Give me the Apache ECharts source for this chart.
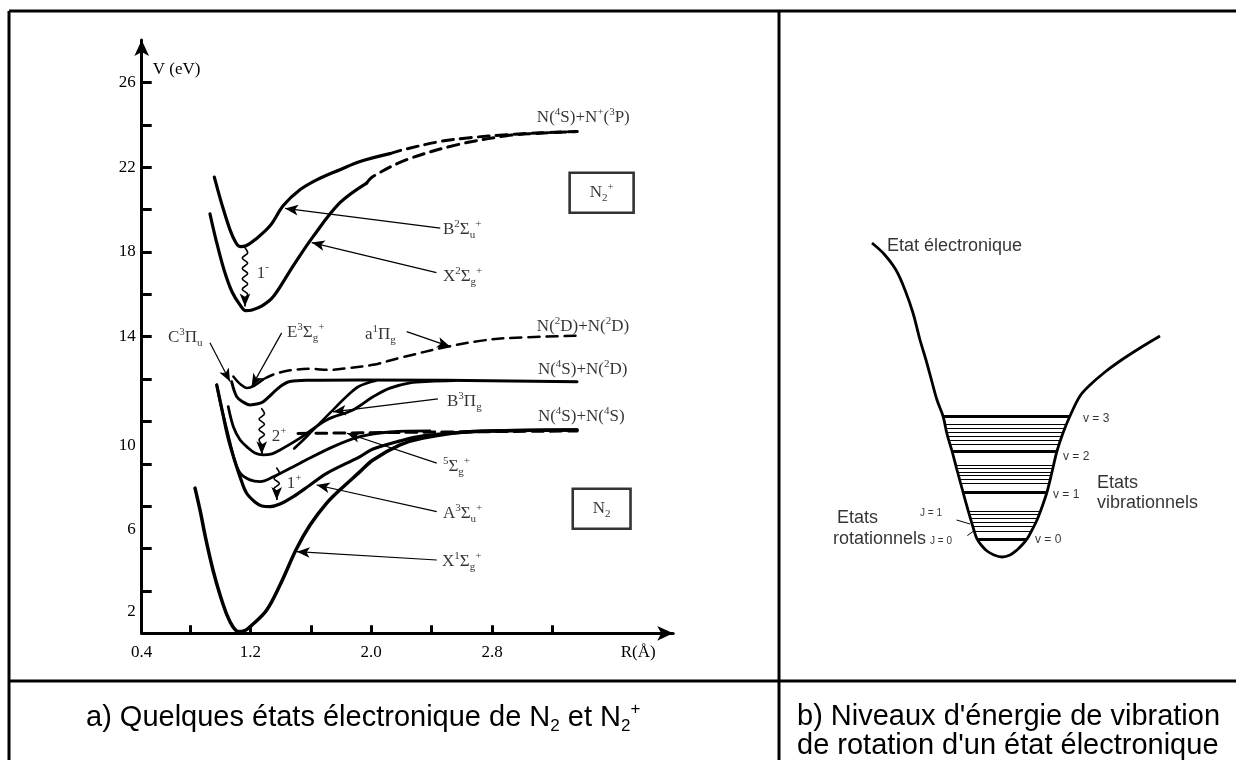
<!DOCTYPE html>
<html><head><meta charset="utf-8">
<script src="https://cdn.jsdelivr.net/npm/echarts@6/dist/echarts.min.js"></script>
<style>html,body{margin:0;padding:0;background:#fff}#c{width:1236px;height:760px}</style>
</head><body><div id="c"></div><script>
// ---------- Panel a) : potential curves of N2 / N2+  (R in Å, V in eV) ----------
const xTickValues = [0.8, 1.2, 1.6, 2.0, 2.4, 2.8, 3.2];
const xLabelValues = [0.48, 1.2, 2.0, 2.8];
const xLabelTexts = ['0.4', '1.2', '2.0', '2.8'];
const yTickValues = [2, 4, 6, 8, 10, 12, 14, 16, 18, 20, 22, 24, 26];
const yLabelValues = [26, 22, 18, 14, 8.86, 4.88, 1.02];
const yLabelTexts = ['26', '22', '18', '14', '10', '6', '2'];

const curveB2Su = [[0.961,21.53],[1.012,20.22],[1.065,19.04],[1.104,18.43],[1.131,18.25],[1.171,18.29],[1.230,18.57],[1.330,19.23],[1.418,20.19],[1.528,20.93],[1.639,21.40],[1.793,21.88],[1.926,22.27],[2.124,22.64]];
const curveB2SuDash = [[2.124,22.64],[2.211,22.82],[2.456,23.21],[2.654,23.39],[2.897,23.53],[3.118,23.62],[3.363,23.68]];
const curveX2Sg = [[0.932,19.80],[0.972,18.57],[1.025,17.16],[1.078,16.12],[1.131,15.50],[1.169,15.23],[1.211,15.26],[1.277,15.45],[1.352,15.89],[1.475,17.25],[1.616,18.73],[1.793,20.32],[1.970,21.25]];
const curveX2SgDash = [[1.970,21.25],[2.012,21.56],[2.235,22.35],[2.566,23.05],[2.897,23.48],[3.118,23.60],[3.363,23.68]];
const curveC3Pu = [[1.076,11.87],[1.109,11.17],[1.151,10.92],[1.197,10.78],[1.250,10.83],[1.285,10.93],[1.343,11.30],[1.396,11.64],[1.462,11.88],[1.595,11.94],[1.926,11.96],[3.363,11.87]];
const curveE3Sg = [[1.087,12.12],[1.131,11.77],[1.177,11.58],[1.224,11.68],[1.285,11.99]];
const curveA1PgDash = [[1.285,11.99],[1.363,12.24],[1.462,12.41],[1.595,12.48],[1.727,12.43],[1.860,12.53],[2.012,12.67],[2.191,13.00],[2.502,13.52],[2.721,13.80],[2.899,13.93],[3.363,14.04]];
const curveB3Pg = [[1.053,10.70],[1.087,9.75],[1.131,9.13],[1.175,8.81],[1.230,8.51],[1.285,8.42],[1.343,8.47],[1.396,8.65],[1.528,9.21],[1.705,10.07],[1.879,10.54],[2.012,11.16],[2.124,11.57],[2.257,11.82],[2.389,11.89],[2.55,11.92]];
const curveSteep = [[1.490,8.72],[1.575,9.30],[1.727,10.40],[1.840,11.20],[1.920,11.66],[2.030,11.92]];
const curveW3Du = [[0.977,11.72],[1.012,10.54],[1.052,9.37],[1.091,8.28],[1.131,7.57],[1.197,7.24],[1.263,7.16],[1.352,7.39],[1.528,8.03],[1.749,8.81],[1.926,9.28],[2.124,9.50],[2.389,9.55]];
const curveA3Su = [[0.977,11.72],[1.012,10.54],[1.052,9.22],[1.098,8.09],[1.138,7.24],[1.175,6.61],[1.230,6.20],[1.276,6.01],[1.330,5.98],[1.396,6.10],[1.484,6.45],[1.595,7.00],[1.705,7.55],[1.926,8.34],[2.012,8.70],[2.191,9.08],[2.343,9.32],[2.674,9.52],[3.363,9.60]];
const curveX1Sg = [[0.833,6.85],[0.866,5.82],[0.906,4.41],[0.952,2.99],[0.999,1.81],[1.045,0.86],[1.085,0.30],[1.120,0.08],[1.158,0.11],[1.211,0.39],[1.308,1.10],[1.396,2.28],[1.507,4.01],[1.595,5.11],[1.705,6.14],[1.793,6.77],[1.926,7.63],[2.012,8.18],[2.191,8.89],[2.343,9.22],[2.674,9.52],[3.363,9.60]];
const curve5SgDash = [[1.515,9.43],[2.191,9.48],[3.363,9.55]];

// wavy transition arrows (1-, 2+, 1+) and their arrow tips
const wave1m = [[1.164,18.20],[1.182,17.96],[1.146,17.71],[1.182,17.47],[1.146,17.22],[1.182,16.98],[1.146,16.73],[1.182,16.49],[1.146,16.24],[1.182,16.00],[1.164,15.80]];
const wave2p = [[1.275,10.60],[1.293,10.36],[1.257,10.11],[1.293,9.87],[1.257,9.62],[1.293,9.38],[1.257,9.13],[1.275,8.90]];
const wave1p = [[1.374,7.80],[1.392,7.56],[1.356,7.31],[1.392,7.07],[1.356,6.82],[1.374,6.70]];
const waveTips = [[[1.164,15.80],[1.164,15.42]], [[1.275,8.90],[1.275,8.45]], [[1.374,6.70],[1.374,6.29]]];

// leader arrows from state names to curves
const leaderArrows = [
  [[2.457,19.12],[1.430,20.05]],
  [[2.432,17.02],[1.606,18.44]],
  [[0.932,13.71],[1.065,11.88]],
  [[1.407,14.18],[1.208,11.64]],
  [[2.235,14.24],[2.522,13.53]],
  [[2.442,11.06],[1.747,10.45]],
  [[2.434,8.03],[1.840,9.44]],
  [[2.434,5.74],[1.639,7.00]],
  [[2.434,3.46],[1.507,3.85]]
];

// text annotations: [R, V, text]
const annotationsA = [
  [3.097,24.33,'{t|N(}{p|4}{t|S)+N}{p|+}{t|(}{p|3}{t|P)}'],
  [2.475,19.04,'{t|B}{p|2}{t|Σ}{b|u}{p|+}'],
  [2.475,16.84,'{t|X}{p|2}{t|Σ}{b|g}{p|+}'],
  [1.242,17.00,'{t|1}{p|-}'],
  [0.654,13.94,'{t|C}{p|3}{t|Π}{b|u}'],
  [1.442,14.18,'{t|E}{p|3}{t|Σ}{b|g}{p|+}'],
  [1.959,14.08,'{t|a}{p|1}{t|Π}{b|g}'],
  [3.097,14.48,'{t|N(}{p|2}{t|D)+N(}{p|2}{t|D)}'],
  [3.104,12.43,'{t|N(}{p|4}{t|S)+N(}{p|2}{t|D)}'],
  [2.502,10.94,'{t|B}{p|3}{t|Π}{b|g}'],
  [3.104,10.23,'{t|N(}{p|4}{t|S)+N(}{p|4}{t|S)}'],
  [2.475,7.87,'{p|5}{t|Σ}{b|g}{p|+}'],
  [2.475,5.67,'{t|A}{p|3}{t|Σ}{b|u}{p|+}'],
  [2.469,3.38,'{t|X}{p|1}{t|Σ}{b|g}{p|+}'],
  [1.341,9.28,'{t|2}{p|+}'],
  [1.440,7.08,'{t|1}{p|+}']
];
const boxesA = [
  [3.526,20.79,'{t|N}{b|2}{p|+}'],
  [3.526,5.88,'{t|N}{b|2}']
];

// ---------- Panel b) : one electronic state with vibrational / rotational levels (arbitrary units) ----------
const wellCurve = [[2.10,16.35],[2.70,15.80],[3.30,15.00],[3.75,14.00],[4.15,12.85],[4.50,11.50],[4.80,10.50],[5.10,9.40],[5.35,8.50],[5.65,7.70],[5.85,6.80],[6.10,5.95],[6.35,5.00],[6.65,3.90],[6.90,3.00],[7.15,2.15],[7.35,1.55],[7.60,1.20],[7.85,0.95],[8.20,0.75],[8.60,0.65],[9.00,0.75],[9.35,1.00],[9.60,1.25],[9.85,1.55],[10.10,2.00],[10.35,2.50],[10.60,3.15],[10.85,3.90],[11.10,4.90],[11.35,5.95],[11.65,6.85],[12.00,7.70],[12.50,8.70],[13.00,9.25],[13.75,9.90],[14.50,10.45],[15.50,11.10],[16.50,11.70]];
const levelY  = [7.70, 7.30, 7.10, 6.90, 6.70, 6.50, 6.30, 5.95, 5.25, 5.075, 4.90, 4.725, 4.525, 4.325, 3.885, 2.925, 2.775, 2.60, 2.40, 2.175, 1.95, 1.55];
const levelXL = [5.65, 5.74, 5.79, 5.83, 5.88, 5.94, 6.00, 6.10, 6.29, 6.33, 6.38, 6.43, 6.48, 6.54, 6.65, 6.92, 6.97, 7.02, 7.08, 7.14, 7.22, 7.35];
const levelXR = [12.00, 11.84, 11.75, 11.67, 11.60, 11.53, 11.47, 11.35, 11.18, 11.14, 11.10, 11.06, 11.00, 10.95, 10.85, 10.53, 10.47, 10.40, 10.30, 10.19, 10.08, 9.85];
const levelKind = ['v','J','J','J','J','J','J','v','J','J','J','J','J','J','v','J','J','J','J','J','J','v'];
const jLeaders = [[[6.33,2.50],[7.0,2.30]], [[6.87,1.72],[7.25,2.00]]];
const annotationsB = [
  [2.85,16.2,'{e|Etat électronique}'],
  [12.65,7.55,'{v|v = 3}'],
  [11.65,5.65,'{v|v = 2}'],
  [11.15,3.75,'{v|v = 1}'],
  [10.25,1.50,'{v|v = 0}'],
  [13.35,4.35,'{e|Etats}'],
  [13.35,3.35,'{e|vibrationnels}'],
  [0.35,2.60,'{e|Etats}'],
  [0.15,1.55,'{e|rotationnels}'],
  [4.5,2.85,'{j|J = 1}'],
  [5.0,1.42,'{j|J = 0}']
];

const captionA = '{c|a) Quelques états électronique de N}{cb|2}{c| et N}{cb|2}{cp|+}';
const captionB = "b) Niveaux d'énergie de vibration\nde rotation d'un état électronique";

// ---------- styles ----------
const serif = "'Liberation Serif','Times New Roman',serif";
const sans = "'Liberation Sans',Arial,sans-serif";
const richSerif = {
  t: {fontFamily: serif, fontSize: 17, lineHeight: 22, color: '#000'},
  p: {fontFamily: serif, fontSize: 11, lineHeight: 12, verticalAlign: 'top', color: '#000'},
  b: {fontFamily: serif, fontSize: 11, lineHeight: 12, verticalAlign: 'bottom', color: '#000'}
};
const richSans = {
  e: {fontFamily: sans, fontSize: 18, lineHeight: 20, color: '#000'},
  v: {fontFamily: sans, fontSize: 12, lineHeight: 14, color: '#000'},
  j: {fontFamily: sans, fontSize: 10, lineHeight: 12, color: '#000'}
};

function curve(data, width, dashed) {
  return {type: 'line', xAxisIndex: 0, yAxisIndex: 0, data: data, showSymbol: false, smooth: 0.35,
    silent: true, clip: false, z: 3,
    lineStyle: {color: '#000', width: width, type: dashed ? [11, 7] : 'solid', cap: 'round', join: 'round'}};
}

const series = [
  curve(curveB2Su, 3.2), curve(curveB2SuDash, 3, true),
  curve(curveX2Sg, 3.2), curve(curveX2SgDash, 3, true),
  curve(curveC3Pu, 3), curve(curveE3Sg, 2.5), curve(curveA1PgDash, 2.5, true),
  curve(curveB3Pg, 2.8), curve(curveSteep, 2.6), curve(curveW3Du, 2.8), curve(curveA3Su, 3.2), curve(curveX1Sg, 3.5),
  curve(curve5SgDash, 3, true),
  curve(wave1m, 1.6), curve(wave2p, 1.6), curve(wave1p, 1.6),
  {type: 'scatter', xAxisIndex: 0, yAxisIndex: 0, symbolSize: 0, silent: true, z: 5, clip: false,
    data: annotationsA.map(a => ({value: [a[0], a[1]], label: {formatter: a[2]}})),
    label: {show: true, position: 'right', distance: 0, rich: richSerif},
    markLine: {silent: true, symbol: ['none', 'arrow'], symbolSize: [8, 13], animation: false,
      label: {show: false}, lineStyle: {color: '#000', width: 1.2, type: 'solid'},
      data: leaderArrows.map(s => [{coord: s[0]}, {coord: s[1]}]).concat(
            waveTips.map(s => [{coord: s[0], lineStyle: {width: 1.6}}, {coord: s[1]}]))}
  },
  {type: 'scatter', xAxisIndex: 0, yAxisIndex: 0, symbolSize: 0, silent: true, z: 5,
    data: boxesA.map(a => ({value: [a[0], a[1]], label: {formatter: a[2]}})),
    label: {show: true, position: 'inside', rich: richSerif, borderColor: '#000', borderWidth: 2.6,
      padding: [9, 20, 9, 20]}
  },
  // panel b
  {type: 'line', xAxisIndex: 1, yAxisIndex: 1, data: wellCurve, showSymbol: false, smooth: 0.35, silent: true,
    lineStyle: {color: '#000', width: 2.8}},
  {type: 'lines', coordinateSystem: 'cartesian2d', xAxisIndex: 1, yAxisIndex: 1, silent: true, z: 3,
    data: levelY.map((y, i) => ({coords: [[levelXL[i], y], [levelXR[i], y]],
      lineStyle: {color: '#000', width: levelKind[i] === 'v' ? 3 : 1.2, opacity: 1}}))},
  {type: 'scatter', xAxisIndex: 1, yAxisIndex: 1, symbolSize: 0, silent: true, z: 5,
    data: annotationsB.map(a => ({value: [a[0], a[1]], label: {formatter: a[2]}})),
    label: {show: true, position: 'right', distance: 0, rich: richSans},
    markLine: {silent: true, symbol: ['none', 'none'], animation: false, label: {show: false},
      lineStyle: {color: '#000', width: 1, type: 'solid'},
      data: jLeaders.map(s => [{coord: s[0]}, {coord: s[1]}])}
  }
];

const chart = echarts.init(document.getElementById('c'), null, {renderer: 'canvas'});
chart.setOption({
  backgroundColor: '#fff',
  animation: false,
  title: [
    {text: captionA, left: 86, top: 701, padding: 0,
      textStyle: {fontWeight: 'normal', rich: {
        c: {fontFamily: sans, fontSize: 29, fontWeight: 'normal', lineHeight: 34, color: '#000'},
        cb: {fontFamily: sans, fontSize: 17, fontWeight: 'normal', lineHeight: 17, verticalAlign: 'bottom', color: '#000'},
        cp: {fontFamily: sans, fontSize: 17, fontWeight: 'normal', lineHeight: 17, verticalAlign: 'top', color: '#000'}}}},
    {text: captionB, left: 797, top: 702, padding: 0,
      textStyle: {fontFamily: sans, fontSize: 29, lineHeight: 29, fontWeight: 'normal', color: '#000'}}
  ],
  grid: [
    {left: 141.7, top: 40, width: 531.5, height: 593.3},
    {left: 830, top: 230, width: 400, height: 340}
  ],
  xAxis: [
    {type: 'value', gridIndex: 0, min: 0.48, max: 4.0,
      name: 'R(Å)', nameLocation: 'end', nameGap: -35,
      nameTextStyle: {fontFamily: serif, fontSize: 17, color: '#000', align: 'center', verticalAlign: 'top', padding: [11, 0, 0, 0]},
      axisLine: {lineStyle: {color: '#000', width: 3}, symbol: ['none', 'arrow'], symbolSize: [11, 16]},
      axisTick: {inside: true, length: 8, lineStyle: {color: '#000', width: 3}, customValues: xTickValues},
      axisLabel: {customValues: xLabelValues, margin: 11, fontFamily: serif, fontSize: 17, color: '#000',
        formatter: v => xLabelTexts[xLabelValues.findIndex(u => Math.abs(u - v) < 1e-6)] || ''},
      splitLine: {show: false}},
    {type: 'value', gridIndex: 1, min: 0, max: 20, show: false}
  ],
  yAxis: [
    {type: 'value', gridIndex: 0, min: 0, max: 28,
      name: 'V (eV)', nameLocation: 'end', nameGap: -38,
      nameTextStyle: {fontFamily: serif, fontSize: 17, color: '#000', align: 'left', verticalAlign: 'bottom', padding: [0, 0, 0, 11]},
      axisLine: {lineStyle: {color: '#000', width: 3}, symbol: ['none', 'arrow'], symbolSize: [11, 16]},
      axisTick: {inside: true, length: 10, lineStyle: {color: '#000', width: 3}, customValues: yTickValues},
      axisLabel: {customValues: yLabelValues, margin: 6, fontFamily: serif, fontSize: 17, color: '#000',
        formatter: v => yLabelTexts[yLabelValues.findIndex(u => Math.abs(u - v) < 1e-6)] || ''},
      splitLine: {show: false}},
    {type: 'value', gridIndex: 1, min: 0, max: 17, show: false}
  ],
  graphic: [
    {type: 'line', shape: {x1: 9, y1: 11, x2: 1236, y2: 11}, style: {stroke: '#000', lineWidth: 3}},
    {type: 'line', shape: {x1: 9, y1: 11, x2: 9, y2: 760}, style: {stroke: '#000', lineWidth: 3}},
    {type: 'line', shape: {x1: 779, y1: 11, x2: 779, y2: 760}, style: {stroke: '#000', lineWidth: 3}},
    {type: 'line', shape: {x1: 9, y1: 681, x2: 1236, y2: 681}, style: {stroke: '#000', lineWidth: 3}}
  ],
  series: series
});
</script></body></html>
